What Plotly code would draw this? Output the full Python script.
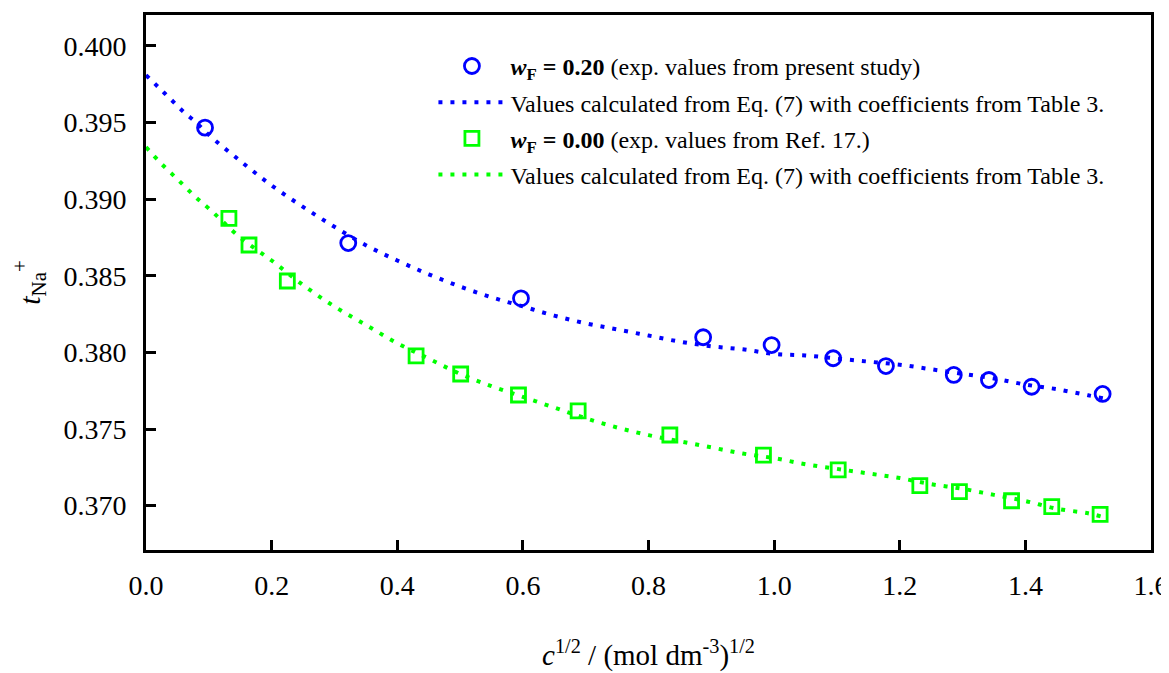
import plotly.graph_objects as go

# Experimental data, w_F = 0.20 (present study)
x_w020 = [0.094, 0.322, 0.597, 0.887, 0.996, 1.094, 1.178, 1.286, 1.342, 1.410, 1.523]
t_w020 = [0.39467, 0.38714, 0.38353, 0.38099, 0.38048, 0.37962, 0.37911, 0.37853, 0.37820, 0.37776, 0.37729]

# Experimental data, w_F = 0.00 (Ref. 17)
x_w000 = [0.132, 0.164, 0.225, 0.430, 0.501, 0.593, 0.688, 0.834, 0.983, 1.102, 1.232, 1.295, 1.378, 1.442, 1.519]
t_w000 = [0.38875, 0.38701, 0.38466, 0.37977, 0.37859, 0.37722, 0.37618, 0.37461, 0.37330, 0.37233, 0.37130, 0.37091, 0.37032, 0.36993, 0.36943]

# Calculated curves (Eq. 7)
x_calc020 = [0.0, 0.02, 0.04, 0.06, 0.08, 0.10, 0.15, 0.20, 0.25, 0.30, 0.35, 0.40, 0.45, 0.50,
             0.55, 0.60, 0.65, 0.70, 0.75, 0.80, 0.85, 0.90, 0.95, 1.00, 1.05, 1.10, 1.15, 1.20,
             1.25, 1.30, 1.35, 1.40, 1.45, 1.50, 1.525]
t_calc020 = [0.3981, 0.3973, 0.3965, 0.3957, 0.3950, 0.3942, 0.3925, 0.3909, 0.3895, 0.3882,
             0.3870, 0.3860, 0.3851, 0.3843, 0.3836, 0.3830, 0.3824, 0.3819, 0.3815, 0.3811,
             0.3807, 0.3804, 0.3802, 0.3799, 0.3798, 0.3796, 0.3794, 0.3792, 0.3789, 0.3786,
             0.3783, 0.3779, 0.3776, 0.3772, 0.3770]

x_calc000 = [0.0, 0.02, 0.04, 0.06, 0.08, 0.10, 0.15, 0.20, 0.25, 0.30, 0.35, 0.40, 0.45, 0.50,
             0.55, 0.60, 0.65, 0.70, 0.75, 0.80, 0.85, 0.90, 0.95, 1.00, 1.05, 1.10, 1.15, 1.20,
             1.25, 1.30, 1.35, 1.40, 1.45, 1.50, 1.52]
t_calc000 = [0.3934, 0.3925, 0.3917, 0.3909, 0.3901, 0.3894, 0.3875, 0.3860, 0.3844, 0.3830,
             0.3818, 0.3806, 0.3796, 0.3786, 0.3778, 0.3771, 0.3764, 0.3757, 0.3751, 0.3746,
             0.3742, 0.3738, 0.3734, 0.3731, 0.3727, 0.3724, 0.3721, 0.3718, 0.3714, 0.3711,
             0.3707, 0.3703, 0.3698, 0.3695, 0.3693]

BLUE = "#0000FF"
GREEN = "#00FF00"
FONT = "Liberation Serif, Times New Roman, serif"

fig = go.Figure()

fig.add_trace(go.Scatter(
    x=x_calc020, y=t_calc020, mode="lines", line_shape="spline",
    line=dict(color=BLUE, width=4, dash="4px,8px"),
    name="Values calculated from Eq. (7) with coefficients from Table 3.",
    legendrank=2, legendgroup="b"))
fig.add_trace(go.Scatter(
    x=x_calc000, y=t_calc000, mode="lines", line_shape="spline",
    line=dict(color=GREEN, width=4, dash="4px,8px"),
    name="Values calculated from Eq. (7) with coefficients from Table 3.",
    legendrank=4, legendgroup="d"))
fig.add_trace(go.Scatter(
    x=x_w020, y=t_w020, mode="markers",
    marker=dict(symbol="circle-open", size=15, color=BLUE, line=dict(width=2.8, color=BLUE)),
    name="<b><i>w</i><sub>F</sub> = 0.20</b> (exp. values from present study)",
    legendrank=1, legendgroup="a"))
fig.add_trace(go.Scatter(
    x=x_w000, y=t_w000, mode="markers",
    marker=dict(symbol="square-open", size=14, color=GREEN, line=dict(width=2.8, color=GREEN)),
    name="<b><i>w</i><sub>F</sub> = 0.00</b> (exp. values from Ref. 17.)",
    legendrank=3, legendgroup="c"))

# The page body adds an 8px offset; the figure size and margins account for it.
fig.update_layout(
    width=1161, height=665,
    margin=dict(l=138, r=18, t=7, b=123, autoexpand=False),
    paper_bgcolor="white", plot_bgcolor="white",
    font=dict(family=FONT, color="black", size=24),
    showlegend=True,
    legend=dict(x=0.286, y=0.946, xanchor="left", yanchor="top",
                bgcolor="rgba(0,0,0,0)", font=dict(family=FONT, size=24, color="black"),
                tracegroupgap=2, traceorder="grouped", itemwidth=67),
    xaxis=dict(range=[0, 1.6], dtick=0.2, tick0=0, tickformat=".1f",
               showgrid=False, zeroline=False, automargin=False,
               showline=True, linecolor="black", linewidth=3, mirror=True,
               ticks="inside", ticklen=10, tickwidth=3, tickcolor="black",
               tickfont=dict(family=FONT, size=28, color="black"),
               ticklabelstandoff=8,
               title=dict(text="<i>c</i><sup>1/2</sup> / (mol dm<sup>-3</sup>)<sup>1/2</sup>",
                          font=dict(family=FONT, size=29, color="black"), standoff=46)),
    yaxis=dict(range=[0.367104, 0.402023], dtick=0.005, tick0=0.370, tickformat=".3f",
               showgrid=False, zeroline=False, automargin=False,
               showline=True, linecolor="black", linewidth=3, mirror=True,
               ticks="inside", ticklen=10, tickwidth=3, tickcolor="black",
               tickfont=dict(family=FONT, size=28, color="black"),
               ticklabelstandoff=11,
               title=dict(text="<i>t</i><sub>Na</sub><sup>+</sup>",
                          font=dict(family=FONT, size=30, color="black"), standoff=30)),
)

fig.write_html("out.html")
